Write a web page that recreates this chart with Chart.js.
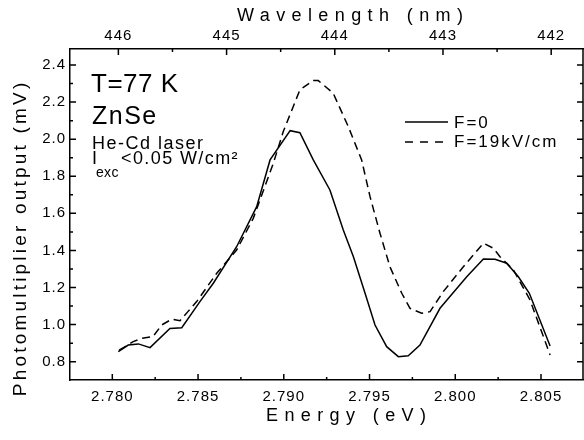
<!DOCTYPE html>
<html>
<head>
<meta charset="utf-8">
<script src="https://cdn.jsdelivr.net/npm/chart.js@4/dist/chart.umd.min.js"></script>
<style>
  body { margin: 0; background: #fff; }
  canvas { display: block; }
</style>
</head>
<body>
<canvas id="chart" width="584" height="440"></canvas>
<script>
// photomultiplier output vs photon energy
var energyF0 = [2.78035, 2.78093, 2.78152, 2.78220, 2.78336, 2.78405, 2.78511, 2.78589, 2.78725,
  2.78842, 2.78920, 2.79037, 2.79094, 2.79172, 2.79269, 2.79347, 2.79406, 2.79474, 2.79532,
  2.79600, 2.79668, 2.79726, 2.79794, 2.79911, 2.79969, 2.80067, 2.80164, 2.80232, 2.80300,
  2.80368, 2.80432, 2.80553];
var signalF0 = [0.854, 0.890, 0.896, 0.876, 0.979, 0.983, 1.124, 1.223, 1.420,
  1.636, 1.888, 2.046, 2.035, 1.888, 1.726, 1.510, 1.366, 1.169, 0.998,
  0.881, 0.827, 0.832, 0.890, 1.088, 1.151, 1.258, 1.354, 1.352, 1.331,
  1.258, 1.169, 0.885];

var energyF19 = [2.78040, 2.78122, 2.78171, 2.78237, 2.78288, 2.78346, 2.78395, 2.78441, 2.78492,
  2.78609, 2.78725, 2.78822, 2.78939, 2.78997, 2.79094, 2.79172, 2.79201, 2.79288, 2.79376,
  2.79454, 2.79503, 2.79561, 2.79619, 2.79688, 2.79736, 2.79804, 2.79853, 2.79930, 2.80047,
  2.80164, 2.80222, 2.80261, 2.80339, 2.80436, 2.80553];
var signalF19 = [0.862, 0.908, 0.926, 0.935, 0.998, 1.029, 1.021, 1.070, 1.124,
  1.277, 1.402, 1.573, 1.870, 2.041, 2.266, 2.316, 2.316, 2.248, 2.068,
  1.888, 1.690, 1.493, 1.312, 1.169, 1.088, 1.061, 1.070, 1.178, 1.312,
  1.439, 1.412, 1.366, 1.295, 1.133, 0.836];

var energyTicks = [2.780, 2.785, 2.790, 2.795, 2.800, 2.805];
var signalTicks = [0.8, 1.0, 1.2, 1.4, 1.6, 1.8, 2.0, 2.2, 2.4];
var wavelengthTicks = [446, 445, 444, 443, 442];

var FONT = '"Liberation Sans", Arial, sans-serif';

function toPoints(xs, ys) {
  return xs.map(function (x, i) { return { x: x, y: ys[i] }; });
}

function mids(arr) {
  var out = [];
  for (var i = 0; i < arr.length - 1; i++) out.push((arr[i] + arr[i + 1]) / 2);
  return out;
}

function drawText(ctx, str, x, y, size, spacing, align) {
  ctx.font = size + 'px ' + FONT;
  ctx.letterSpacing = spacing + 'px';
  ctx.textAlign = 'left';
  ctx.textBaseline = 'alphabetic';
  var w = ctx.measureText(str).width - spacing;
  var x0 = align === 'center' ? x - w / 2 : x;
  ctx.fillText(str, x0, y);
  return x0 + w + spacing;
}

// inward tick marks, right frame line, labels and legend
var decorations = {
  id: 'decorations',
  beforeDraw: function (chart) {
    chart.ctx.letterSpacing = '1px';
  },
  afterDatasetsDraw: function (chart) {
    var ctx = chart.ctx, a = chart.chartArea, s = chart.scales;
    ctx.save();
    ctx.strokeStyle = '#000';
    ctx.fillStyle = '#000';
    ctx.lineWidth = 1.5;
    ctx.setLineDash([]);

    ctx.beginPath();
    ctx.moveTo(a.right, a.top);
    ctx.lineTo(a.right, a.bottom);
    ctx.stroke();

    function xTicks(scale, vals, len) {
      vals.forEach(function (v) {
        var px = scale.getPixelForValue(v);
        ctx.beginPath();
        ctx.moveTo(px, a.bottom); ctx.lineTo(px, a.bottom - len);
        ctx.stroke();
      });
    }
    function topTicks(scale, vals, len) {
      vals.forEach(function (v) {
        var px = scale.getPixelForValue(v);
        ctx.beginPath();
        ctx.moveTo(px, a.top); ctx.lineTo(px, a.top + len);
        ctx.stroke();
      });
    }
    function yTicks(scale, vals, len) {
      vals.forEach(function (v) {
        var py = scale.getPixelForValue(v);
        ctx.beginPath();
        ctx.moveTo(a.left, py); ctx.lineTo(a.left + len, py);
        ctx.moveTo(a.right, py); ctx.lineTo(a.right - len, py);
        ctx.stroke();
      });
    }
    xTicks(s.x, energyTicks, 6);
    xTicks(s.x, mids(energyTicks), 3);
    topTicks(s.x2, wavelengthTicks, 6);
    topTicks(s.x2, mids(wavelengthTicks), 3);
    yTicks(s.y, signalTicks, 6);
    yTicks(s.y, mids(signalTicks), 3);

    // axis titles
    drawText(ctx, 'Wavelength (nm)', 350, 21, 18, 6.4, 'center');
    drawText(ctx, 'Energy (eV)', 346, 421, 18, 6.4, 'center');
    ctx.save();
    ctx.translate(26, 239.5);
    ctx.rotate(-Math.PI / 2);
    drawText(ctx, 'Photomultiplier output (mV)', 0, 0, 19, 3.2, 'center');
    ctx.restore();

    // sample notes
    drawText(ctx, 'T=77 K', 91, 92, 26, 0.5);
    drawText(ctx, 'ZnSe', 92, 124, 25, 1.5);
    drawText(ctx, 'He-Cd laser', 92, 148.5, 18, 1.5);
    drawText(ctx, 'I', 92, 164, 18, 0);
    drawText(ctx, 'exc', 96, 177, 14, 0.3);
    drawText(ctx, '<0.05 W/cm\u00b2', 121, 164, 18, 1.4);

    // legend
    var ds = chart.data.datasets;
    ctx.lineWidth = 1.5;
    ctx.beginPath();
    ctx.moveTo(405, 122); ctx.lineTo(448, 122);
    ctx.stroke();
    drawText(ctx, ds[0].label, 454, 128, 17, 2);
    ctx.setLineDash([8, 7]);
    ctx.beginPath();
    ctx.moveTo(405, 142); ctx.lineTo(444, 142);
    ctx.stroke();
    ctx.setLineDash([]);
    drawText(ctx, ds[1].label, 454, 147, 17, 2);
    ctx.restore();
  }
};

var tickFont = { family: FONT, size: 15 };

new Chart(document.getElementById('chart'), {
  type: 'line',
  data: {
    datasets: [
      {
        label: 'F=0',
        data: toPoints(energyF0, signalF0),
        borderColor: '#000',
        borderWidth: 1.5,
        pointRadius: 0,
        tension: 0,
        fill: false,
        xAxisID: 'x',
        yAxisID: 'y'
      },
      {
        label: 'F=19kV/cm',
        data: toPoints(energyF19, signalF19),
        borderColor: '#000',
        borderWidth: 1.5,
        borderDash: [8, 5],
        pointRadius: 0,
        tension: 0,
        fill: false,
        xAxisID: 'x',
        yAxisID: 'y'
      }
    ]
  },
  options: {
    responsive: false,
    animation: false,
    events: [],
    layout: { padding: { left: 0, right: 1, top: 0, bottom: 0 } },
    plugins: { legend: { display: false }, tooltip: { enabled: false } },
    scales: {
      x: {
        type: 'linear',
        position: 'bottom',
        min: 2.777533,
        max: 2.807449,
        afterBuildTicks: function (sc) { sc.ticks = energyTicks.map(function (v) { return { value: v }; }); },
        afterFit: function (sc) { sc.height = 60; },
        ticks: {
          font: tickFont, color: '#000', padding: 8, maxRotation: 0, autoSkip: false,
          callback: function (v) { return Number(v).toFixed(3); }
        },
        grid: { display: false, drawTicks: false },
        border: { color: '#000', width: 1.5 }
      },
      x2: {
        type: 'linear',
        position: 'top',
        reverse: true,
        min: 441.706,
        max: 446.447,
        afterBuildTicks: function (sc) { sc.ticks = wavelengthTicks.map(function (v) { return { value: v }; }); },
        afterFit: function (sc) { sc.height = 49; },
        ticks: { font: tickFont, color: '#000', padding: 4, maxRotation: 0, autoSkip: false },
        grid: { display: false, drawTicks: false },
        border: { color: '#000', width: 1.5 }
      },
      y: {
        type: 'linear',
        position: 'left',
        min: 0.7013,
        max: 2.4863,
        afterBuildTicks: function (sc) { sc.ticks = signalTicks.map(function (v) { return { value: v }; }); },
        afterFit: function (sc) { sc.width = 70; },
        ticks: {
          font: tickFont, color: '#000', padding: 4,
          callback: function (v) { return Number(v).toFixed(1); }
        },
        grid: { display: false, drawTicks: false },
        border: { color: '#000', width: 1.5 }
      }
    }
  },
  plugins: [decorations]
});
</script>
</body>
</html>
